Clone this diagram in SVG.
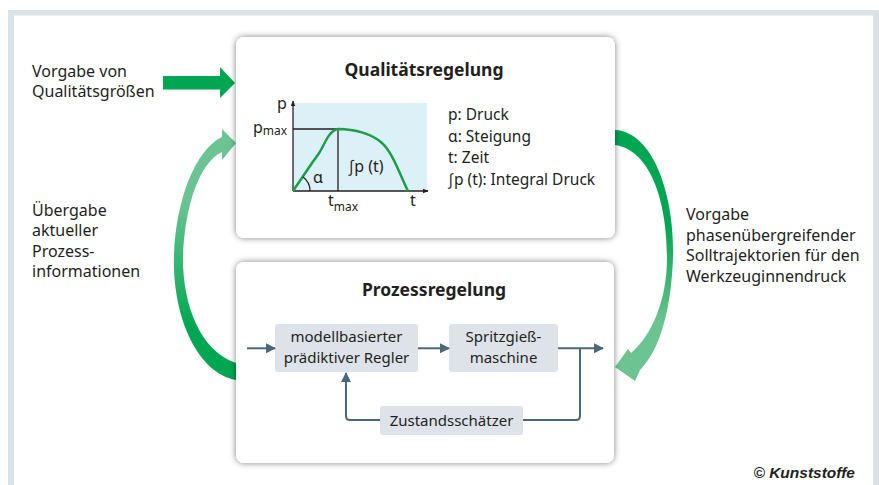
<svg xmlns="http://www.w3.org/2000/svg" width="879" height="485" viewBox="0 0 879 485">
  <defs>
    <style>
      .lbl { font-family: "Noto Sans", "Open Sans", sans-serif; font-size: 16px; fill: #231f20; }
      .leg { font-family: "Noto Sans", "Open Sans", sans-serif; font-size: 15.5px; fill: #231f20; }
      .ttl { font-family: "Noto Sans", "Open Sans", sans-serif; font-size: 17.5px; font-weight: bold; fill: #231f20; text-anchor: middle; }
      .blk { font-family: "Noto Sans", "Open Sans", sans-serif; font-size: 15px; fill: #231f20; text-anchor: middle; }
      .box { fill: #ffffff; filter: url(#shadow); }
      .inner { fill: #dde3e8; }
      .conn { fill: none; stroke: #48697b; stroke-width: 2; }
      .axis { fill: none; stroke: #231f20; stroke-width: 1.3; }
    </style>
    <filter id="shadow" x="-10%" y="-10%" width="120%" height="120%">
      <feDropShadow dx="0" dy="0" stdDeviation="3" flood-color="#000" flood-opacity="0.5"/>
    </filter>
    <marker id="ah" viewBox="0 0 10 10" refX="9" refY="5" markerWidth="5" markerHeight="5" orient="auto" markerUnits="strokeWidth">
      <path d="M0,0 L10,5 L0,10 Z" fill="#48697b"/>
    </marker>
    <marker id="axh" viewBox="0 0 10 10" refX="9" refY="5" markerWidth="6" markerHeight="6" orient="auto" markerUnits="userSpaceOnUse">
      <path d="M0,1 L10,5 L0,9 Z" fill="#231f20"/>
    </marker>
    <linearGradient id="gLeft" gradientUnits="userSpaceOnUse" x1="0" y1="330" x2="0" y2="200">
      <stop offset="0" stop-color="#00a651"/>
      <stop offset="1" stop-color="#6cc492"/>
    </linearGradient>
    <linearGradient id="gRight" gradientUnits="userSpaceOnUse" x1="0" y1="225" x2="0" y2="325">
      <stop offset="0" stop-color="#00a651"/>
      <stop offset="1" stop-color="#6cc492"/>
    </linearGradient>
  </defs>

  <!-- frame -->
  <rect x="8" y="10" width="871" height="480" fill="#dae1e7"/>
  <rect x="14" y="15.5" width="859" height="475" fill="#ffffff"/>

  <!-- big arrows -->
  <g id="arrows-big">
    <path d="M163,76 L220,76 L220,67 L235,83 L220,98 L220,89.5 L163,89.5 Z" fill="#00a651"/>
    <path d="M236,380 C195,372 172,312 174,255 C176,200 195,150 222,137 L222,129 L236,143 L222,160 L222,152 C200,162 185,205 183,255 C182,300 198,350 236,363 Z" fill="url(#gLeft)"/>
    <path d="M615,130 C655,132 675,200 673,258 C671,310 660,350 640,370 L635,381 L615,367 L628,349 L631,353 C652,335 667,300 667,258 C667,200 650,150 615,145 Z" fill="url(#gRight)"/>
  </g>

  <!-- side labels -->
  <g id="label-vorgabe-qual">
    <text class="lbl" x="32" y="77">Vorgabe von</text>
    <text class="lbl" x="32" y="97">Qualitätsgrößen</text>
  </g>
  <g id="label-uebergabe">
    <text class="lbl" x="32" y="216">Übergabe</text>
    <text class="lbl" x="32" y="236">aktueller</text>
    <text class="lbl" x="32" y="256.5">Prozess-</text>
    <text class="lbl" x="32" y="277">informationen</text>
  </g>
  <g id="label-vorgabe-soll">
    <text class="lbl" x="686" y="220">Vorgabe</text>
    <text class="lbl" x="686" y="240.5">phasenübergreifender</text>
    <text class="lbl" x="686" y="261">Solltrajektorien für den</text>
    <text class="lbl" x="686" y="281.5">Werkzeuginnendruck</text>
  </g>

  <!-- Qualitätsregelung -->
  <g id="qualitaetsregelung">
    <rect class="box" x="236" y="37" width="379" height="201" rx="8"/>
    <text class="ttl" x="424" y="75.5">Qualitätsregelung</text>
    <rect x="293" y="103" width="134" height="88" fill="#dcf0f8"/>
    <line class="axis" x1="293" y1="191" x2="293" y2="101" marker-end="url(#axh)"/>
    <line class="axis" x1="293" y1="191" x2="428" y2="191" marker-end="url(#axh)"/>
    <line class="axis" x1="293" y1="129" x2="338" y2="129"/>
    <line class="axis" x1="338" y1="129" x2="338" y2="191"/>
    <path d="M293,191 L312,163 C316,157 318,156 322,148 C327,138 331,130 338,129 C355,129 372,134 382,143 C393,153 400,175 408,191" fill="none" stroke="#1a9e48" stroke-width="2.5"/>
    <path d="M310,191 A17,17 0 0 0 303,177" fill="none" stroke="#231f20" stroke-width="1.2"/>
    <text class="lbl" x="277" y="109">p</text>
    <text class="lbl" x="253" y="133">p<tspan font-size="12" dy="2">max</tspan></text>
    <text class="lbl" x="328" y="206">t<tspan font-size="12" dy="5">max</tspan></text>
    <text class="lbl" x="410" y="206">t</text>
    <text class="lbl" x="313" y="183">α</text>
    <text class="lbl" x="348" y="172">∫p (t)</text>
    <text class="leg" x="448" y="120">p: Druck</text>
    <text class="leg" x="448" y="141.7">α: Steigung</text>
    <text class="leg" x="448" y="163.3">t: Zeit</text>
    <text class="leg" x="448" y="185">∫p (t): Integral Druck</text>
  </g>

  <!-- Prozessregelung -->
  <g id="prozessregelung">
    <rect class="box" x="236" y="262" width="378" height="201" rx="8"/>
    <text class="ttl" x="434" y="295.5">Prozessregelung</text>
  </g>
  <g id="regler">
    <rect class="inner" x="275" y="324" width="143" height="48" rx="3"/>
    <text class="blk" x="346.5" y="342.3">modellbasierter</text>
    <text class="blk" x="346.5" y="363.3">prädiktiver Regler</text>
  </g>
  <g id="maschine">
    <rect class="inner" x="449" y="324" width="109" height="48" rx="3"/>
    <text class="blk" x="503.5" y="342.3">Spritzgieß-</text>
    <text class="blk" x="503.5" y="363.3">maschine</text>
  </g>
  <g id="zustandsschaetzer">
    <rect class="inner" x="380" y="406" width="143" height="29" rx="3"/>
    <text class="blk" x="451.5" y="425.5">Zustandsschätzer</text>
  </g>

  <!-- connectors -->
  <g id="connectors">
    <line class="conn" x1="247" y1="348.3" x2="275" y2="348.3" marker-end="url(#ah)"/>
    <line class="conn" x1="418" y1="348.3" x2="449" y2="348.3" marker-end="url(#ah)"/>
    <line class="conn" x1="558" y1="348.3" x2="603" y2="348.3" marker-end="url(#ah)"/>
    <path class="conn" d="M580,348.3 L580,416 Q580,420 576,420 L523,420"/>
    <path class="conn" d="M380,420 L350,420 Q346,420 346,416 L346,373" marker-end="url(#ah)"/>
  </g>

  <text x="855" y="478" text-anchor="end" font-family="Liberation Sans, Arial, sans-serif" font-size="15.5" font-weight="bold" font-style="italic" fill="#231f20">© Kunststoffe</text>
</svg>
